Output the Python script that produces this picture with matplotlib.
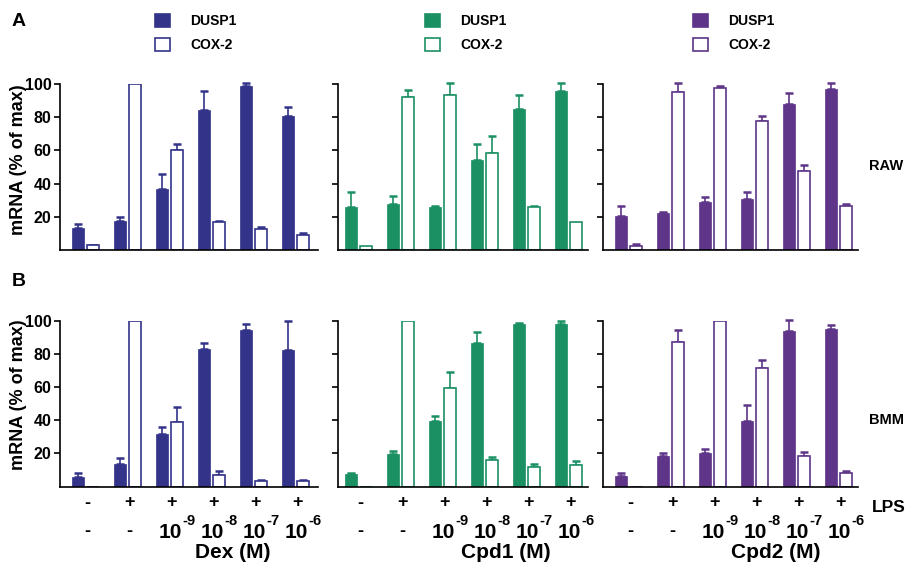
import numpy as np
import matplotlib
matplotlib.use("Agg")
import matplotlib.pyplot as plt
from matplotlib.patches import Patch
import matplotlib.transforms as mtransforms

plt.rcParams['font.family'] = ['Liberation Sans', 'DejaVu Sans']
plt.rcParams['font.weight'] = 'bold'

# Daten, je Gruppe: -, LPS, LPS+10^-9 ... LPS+10^-6
drugs = ["Dex", "Cpd1", "Cpd2"]
colors = ["#33338a", "#1b9063", "#5e3589"]
lps_labels = ["-", "+", "+", "+", "+", "+"]
dose_labels = ["-", "-", "10^-9", "10^-8", "10^-7", "10^-6"]
cell_lines = ["RAW", "BMM"]

# A: RAW
dex_raw_dusp = [13, 17.5, 36.7, 84.5, 98.5, 81]
dex_raw_dusp_err = [2.5, 2.5, 9.3, 11.5, 2, 5]
dex_raw_cox = [2.8, 100, 60.2, 17, 12.4, 9]
dex_raw_cox_err = [0.5, 0, 3.8, 0.3, 1.6, 1]

cpd1_raw_dusp = [26, 28, 26, 54, 84.7, 96]
cpd1_raw_dusp_err = [9, 4.5, 0.7, 9.7, 8.7, 4.8]
cpd1_raw_cox = [2.6, 92, 93.4, 58.6, 26, 16.7]
cpd1_raw_cox_err = [0, 4.4, 7.4, 10.1, 0.7, 0]

cpd2_raw_dusp = [20.5, 22.5, 29, 31, 88, 97]
cpd2_raw_dusp_err = [6, 0.5, 2.7, 3.7, 6.8, 3.8]
cpd2_raw_cox = [2.6, 95, 97.4, 78, 47.6, 26.7]
cpd2_raw_cox_err = [1, 5.8, 1.6, 3, 3.6, 1.3]

# B: BMM
dex_bmm_dusp = [5.6, 13.5, 31.8, 83, 94.3, 82.6]
dex_bmm_dusp_err = [2.4, 3.5, 4.2, 3.6, 3.6, 17.3]
dex_bmm_cox = [0, 100, 39, 7, 3.2, 3.2]
dex_bmm_cox_err = [0, 0, 9, 2.4, 1, 0.8]

cpd1_bmm_dusp = [7.4, 19.7, 39.4, 86.4, 98.3, 98.3]
cpd1_bmm_dusp_err = [1, 2, 3.2, 6.5, 0.5, 1.8]
cpd1_bmm_cox = [0, 100, 59.5, 16, 11.7, 12.9]
cpd1_bmm_cox_err = [0, 0, 9.8, 1.7, 1.6, 2.6]

cpd2_bmm_dusp = [6.6, 18.5, 20, 39.4, 93.9, 95]
cpd2_bmm_dusp_err = [1.4, 1.8, 2.5, 9.6, 6.4, 2.7]
cpd2_bmm_cox = [0, 87.2, 100, 71.6, 18.5, 8.4]
cpd2_bmm_cox_err = [0, 7.1, 0, 4.4, 2.5, 0.8]

data = {
    ("RAW", "Dex"): (dex_raw_dusp, dex_raw_dusp_err, dex_raw_cox, dex_raw_cox_err),
    ("RAW", "Cpd1"): (cpd1_raw_dusp, cpd1_raw_dusp_err, cpd1_raw_cox, cpd1_raw_cox_err),
    ("RAW", "Cpd2"): (cpd2_raw_dusp, cpd2_raw_dusp_err, cpd2_raw_cox, cpd2_raw_cox_err),
    ("BMM", "Dex"): (dex_bmm_dusp, dex_bmm_dusp_err, dex_bmm_cox, dex_bmm_cox_err),
    ("BMM", "Cpd1"): (cpd1_bmm_dusp, cpd1_bmm_dusp_err, cpd1_bmm_cox, cpd1_bmm_cox_err),
    ("BMM", "Cpd2"): (cpd2_bmm_dusp, cpd2_bmm_dusp_err, cpd2_bmm_cox, cpd2_bmm_cox_err),
}

W, H = 914, 562
fig = plt.figure(figsize=(W / 100, H / 100), dpi=100)

# Achsenpositionen in Pixel: (links, rechts, erste Gruppenmitte)
cols_px = [(60, 318, 85.5), (338, 588, 358.5), (603, 858, 628.5)]
rows_px = [(84, 250), (320.7, 486.5)]
ylabel_center_px = [160, 395]
spacing = 42.0
bw = 0.29
off = 0.18
x = np.arange(6)

for r, cell in enumerate(cell_lines):
    top, bot = rows_px[r]
    for c, drug in enumerate(drugs):
        l, rr, c0 = cols_px[c]
        ax = fig.add_axes([l / W, 1 - bot / H, (rr - l) / W, (bot - top) / H])
        col = colors[c]
        dusp, dusp_err, cox, cox_err = [np.array(v, float) for v in data[(cell, drug)]]

        ax.bar(x - off, dusp, bw, color=col, edgecolor=col, linewidth=0.5, zorder=2)
        ax.bar(x + off, cox, bw, color="white", edgecolor=col, linewidth=1.2, zorder=2)
        for xs, vals, errs in [(x - off, dusp, dusp_err), (x + off, cox, cox_err)]:
            m = errs > 0
            ax.errorbar(xs[m], vals[m], yerr=[np.zeros(m.sum()), errs[m]], fmt="none",
                        ecolor=col, elinewidth=1.2, capsize=3.2, capthick=1.8,
                        clip_on=False, zorder=1)

        ax.set_xlim((l - c0) / spacing, (rr - c0) / spacing)
        ax.set_ylim(0, 100)
        ax.set_yticks([20, 40, 60, 80, 100])
        ax.spines[["top", "right"]].set_visible(False)
        ax.spines[["left", "bottom"]].set_linewidth(1.2)
        ax.tick_params(axis="y", direction="out", length=4, width=1.2, labelsize=11.5, pad=2)
        ax.tick_params(axis="x", length=0, labelbottom=False)
        if c == 0:
            ax.set_ylabel("mRNA (% of max)", fontsize=13, fontweight="bold")
            ax.yaxis.set_label_coords((19 - l) / (rr - l),
                                      (bot - ylabel_center_px[r]) / (bot - top),
                                      transform=ax.transAxes)
            ax.yaxis.label.set_va("center")
        else:
            ax.tick_params(axis="y", labelleft=False)

        if r == 0:
            ax.legend(handles=[Patch(facecolor=col, edgecolor=col, linewidth=1.2),
                               Patch(facecolor="white", edgecolor=col, linewidth=1.2)],
                      labels=["DUSP1", "COX-2"], frameon=False, loc="upper left",
                      bbox_to_anchor=([155, 425, 693][c] / W, 1 - 14 / H),
                      bbox_transform=fig.transFigure, borderpad=0, borderaxespad=0,
                      fontsize=10, handlelength=1.05, handleheight=1.05,
                      handletextpad=1.5, labelspacing=0.72)

        if r == 1:
            trans = mtransforms.blended_transform_factory(ax.transData, fig.transFigure)
            for i in range(6):
                ax.text(x[i] + 0.05, 1 - 503 / H, lps_labels[i], transform=trans,
                        ha="center", va="center", fontsize=13, fontweight="bold")
                if "^" in dose_labels[i]:
                    base, expo = dose_labels[i].split("^")
                    ax.text(x[i] + 0.3, 1 - 532 / H, base, transform=trans,
                            ha="right", va="center", fontsize=15, fontweight="bold")
                    ax.text(x[i] + 0.31, 1 - 521 / H, expo, transform=trans,
                            ha="left", va="center", fontsize=10.5, fontweight="bold")
                else:
                    ax.text(x[i] + 0.05, 1 - 532 / H, dose_labels[i], transform=trans,
                            ha="center", va="center", fontsize=13, fontweight="bold")
            ax.text(3.5, 1 - 553 / H, f"{drug} (M)", transform=trans,
                    ha="center", va="center", fontsize=15, fontweight="bold")

fig.text(12 / W, 1 - 22 / H, "A", fontsize=14, fontweight="bold", va="center")
fig.text(12 / W, 1 - 282 / H, "B", fontsize=14, fontweight="bold", va="center")
fig.text(869 / W, 1 - 166 / H, "RAW", fontsize=10.5, fontweight="bold", va="center")
fig.text(869 / W, 1 - 420 / H, "BMM", fontsize=10.5, fontweight="bold", va="center")
fig.text(872 / W, 1 - 507 / H, "LPS", fontsize=12.5, fontweight="bold", va="center")

fig.savefig("out.png", dpi=100)
